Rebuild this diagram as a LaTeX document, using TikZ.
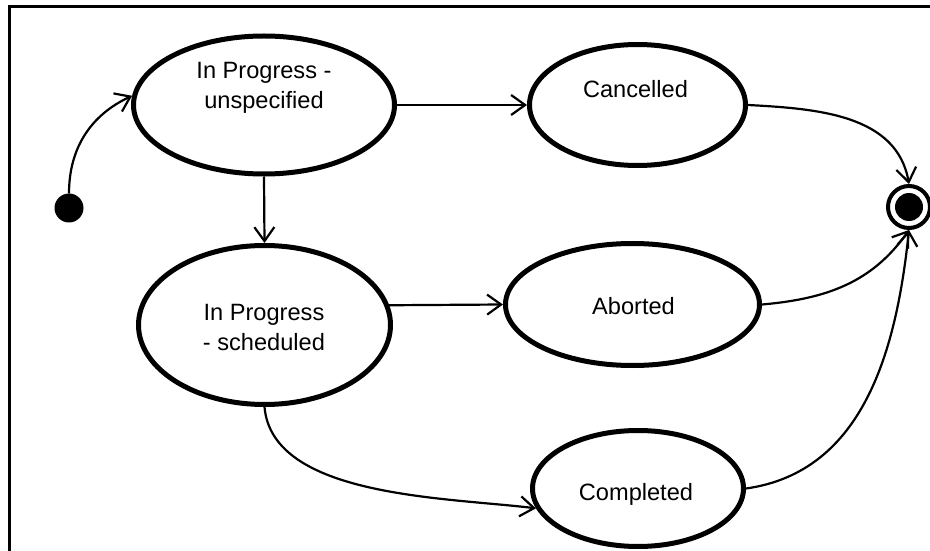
\documentclass[tikz,border=0pt]{standalone}
\usepackage{fontspec}
\setmainfont{Liberation Sans}
\usetikzlibrary{shapes.geometric,arrows.meta}
\begin{document}
\begin{tikzpicture}[x=1pt,y=1pt,
  state/.style={ellipse,draw,line width=5pt,fill=white,inner sep=0pt},
  lbl/.style={inner sep=0pt,align=center,font=\fontsize{23.6}{30}\selectfont},
  conn/.style={line width=2.2pt,-{Straight Barb[length=14pt,width=20pt,line width=2.2pt]}},
  frame/.style={line width=3pt}]
\useasboundingbox (0,0) rectangle (930,550);
\fill[white] (0,0) rectangle (930,550);
\draw[frame] (9,-5) -- (9,543) -- (940,543);
% states
\node[state,minimum width=261pt,minimum height=138pt] (e1) at (264,445) {};
\node[state,minimum width=216pt,minimum height=121pt] (ca) at (637.5,445) {};
\node[state,minimum width=252pt,minimum height=159pt] (e2) at (264.5,225) {};
\node[state,minimum width=254pt,minimum height=122pt] (ab) at (632.5,245.5) {};
\node[state,minimum width=211pt,minimum height=116pt] (co) at (638,61.5) {};
% initial and final
\node[circle,fill=black,minimum size=29pt,inner sep=0pt,outer sep=0pt] (init) at (69,342) {};
\node[circle,draw,line width=4pt,minimum size=42pt,inner sep=0pt] (fin) at (909,343) {};
\fill (fin.center) circle (14);
% labels
\node[lbl] (t1) at (264,462) {In Progress -\\unspecified};
\node[lbl,anchor=base] (t2) at (635.5,452) {Cancelled};
\node[lbl] (t3) at (264,222.5) {In Progress\\- scheduled};
\node[lbl,anchor=base] (t4) at (633.5,236) {Aborted};
\node[lbl,anchor=base] (t5) at (636,50) {Completed};
% connectors
\draw[conn] (init.north) to[out=90,in=205] (e1.176);
\draw[conn] (e1.east) -- (ca.west);
\draw[conn] (e1.south) -- (e2.north);
\draw[conn] (e2.9) -- (ab.west);
\draw[conn] (e2.south) to[out=-85,in=173,looseness=0.8] (co.191);
\draw[conn] (ca.east) to[out=-3,in=100] (fin.north);
\draw[conn] (ab.east) to[out=5,in=-125] (fin.south);
\draw[conn] (co.east) to[out=8,in=-96] (fin.south);
\end{tikzpicture}
\end{document}
